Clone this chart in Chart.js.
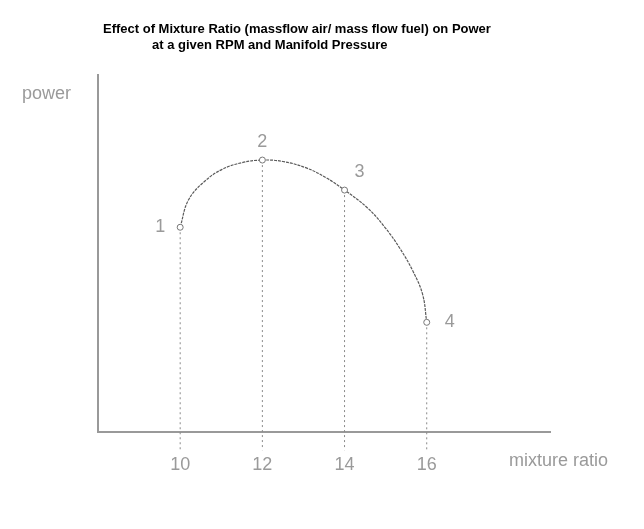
<!DOCTYPE html>
<html>
<head>
<meta charset="utf-8">
<script src="https://cdn.jsdelivr.net/npm/chart.js@4/dist/chart.umd.min.js"></script>
<style>
  html, body { margin: 0; padding: 0; background: #fff; }
  #wrap { width: 644px; height: 529px; }
</style>
</head>
<body>
<div id="wrap"><canvas id="c" width="644" height="529"></canvas></div>
<script>
// ---- data ----
const titleLines = ["Effect of Mixture Ratio (massflow air/ mass flow fuel) on Power", "at a given RPM and Manifold Pressure"];
const xAxisLabel = "mixture ratio";
const yAxisLabel = "power";
const xTicks = [10, 12, 14, 16];
const pointLabels = ["1", "2", "3", "4"];
const pointX = [10, 12, 14, 16];
const pointPower = [5.74, 7.62, 6.78, 3.08];
const curveX = [10, 10.2, 10.59, 11.02, 11.51, 12, 12.5, 13.07, 13.56, 14, 14.54, 14.98, 15.34, 15.66, 15.90, 16];
const curvePower = [5.74, 6.50, 7.02, 7.36, 7.55, 7.62, 7.58, 7.40, 7.12, 6.78, 6.30, 5.74, 5.16, 4.52, 3.86, 3.08];
const dropBottom = -0.5;

const curveData = curveX.map((x, i) => ({ x: x, y: curvePower[i] }));
const pointData = pointX.map((x, i) => ({ x: x, y: pointPower[i] }));

const dropSets = pointX.map((x, i) => ({
  type: 'line',
  data: [{ x: x, y: pointPower[i] }, { x: x, y: dropBottom }],
  borderColor: '#8a8a8a',
  borderWidth: 1,
  borderDash: [2, 3],
  pointRadius: 0,
  clip: false,
  order: 3
}));

const textPlugin = {
  id: 'texts',
  afterDraw(chart) {
    const ctx = chart.ctx;
    ctx.save();
    ctx.fillStyle = '#000';
    ctx.font = 'bold 13px "Liberation Sans", Arial, sans-serif';
    ctx.textBaseline = 'middle';
    ctx.textAlign = 'left';
    ctx.fillText(titleLines[0], 103, 29);
    ctx.fillText(titleLines[1], 152, 45);

    ctx.fillStyle = '#9a9a9a';
    ctx.font = '18px "Liberation Sans", Arial, sans-serif';
    ctx.fillText(xAxisLabel, 509, 461);
    ctx.fillText(yAxisLabel, 22, 94);

    const meta = chart.getDatasetMeta(1);
    const offs = [[-20, 0], [0, -18], [15, -18], [23, 0]];
    ctx.textAlign = 'center';
    meta.data.forEach((el, i) => {
      ctx.fillText(pointLabels[i], el.x + offs[i][0], el.y + offs[i][1]);
    });
    ctx.restore();
  }
};

new Chart(document.getElementById('c'), {
  type: 'line',
  data: {
    datasets: [
      {
        data: curveData,
        borderColor: '#5a5a5a',
        borderWidth: 1.2,
        borderDash: [3, 1],
        tension: 0.4,
        pointRadius: 0,
        order: 2
      },
      {
        data: pointData,
        showLine: false,
        pointRadius: 3,
        pointBorderWidth: 1,
        pointBorderColor: '#777',
        pointBackgroundColor: '#fff',
        order: 1
      },
      ...dropSets
    ]
  },
  plugins: [textPlugin],
  options: {
    responsive: false,
    animation: false,
    events: [],
    layout: { padding: { left: 90, right: 94, top: 75, bottom: 39 } },
    plugins: { legend: { display: false }, tooltip: { enabled: false }, title: { display: false } },
    scales: {
      x: {
        type: 'linear',
        min: 8,
        max: 19,
        afterBuildTicks(scale) { scale.ticks = xTicks.map(v => ({ value: v })); },
        grid: { display: false },
        border: { display: true, color: '#999', width: 2 },
        ticks: {
          padding: 14,
          color: '#9a9a9a',
          font: { family: '"Liberation Sans", Arial, sans-serif', size: 18 },
          maxRotation: 0,
          autoSkip: false
        }
      },
      y: {
        type: 'linear',
        min: 0,
        max: 10,
        grid: { display: false },
        border: { display: true, color: '#999', width: 2 },
        ticks: { display: false }
      }
    }
  }
});
</script>
</body>
</html>
